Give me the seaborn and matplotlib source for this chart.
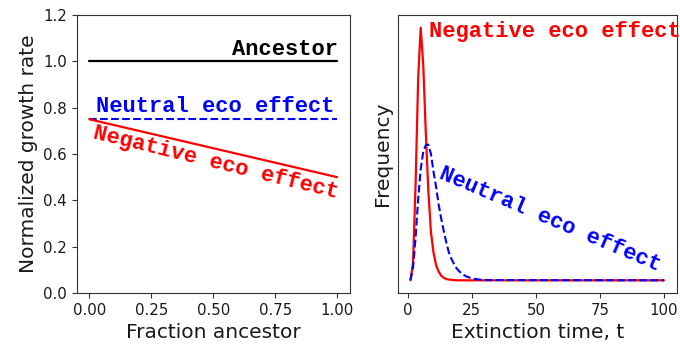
import matplotlib
matplotlib.use("Agg")
import matplotlib.pyplot as plt
import seaborn as sns

# ---- data: left panel ----
frac_ancestor = [0.0, 1.0]
ancestor_rate = [1.0, 1.0]
neutral_rate = [0.75, 0.75]
negative_rate = [0.75, 0.5]

# ---- data: right panel (relative frequency) ----
ext_time = [1, 2, 3, 4, 5, 6, 7, 8, 9, 10, 11, 12, 13, 14, 15, 16, 17, 18, 19, 20,
            21, 22, 23, 24, 25, 26, 27, 28, 29, 30, 100]
negative_freq = [0.0, 0.07, 0.38, 0.80, 1.0, 0.85, 0.58, 0.35, 0.19, 0.11, 0.06, 0.035,
                 0.018, 0.010, 0.005, 0.003, 0.002, 0.001, 0.0, 0.0,
                 0.0, 0.0, 0.0, 0.0, 0.0, 0.0, 0.0, 0.0, 0.0, 0.0, 0.0]
neutral_freq = [0.0, 0.05, 0.17, 0.32, 0.44, 0.51, 0.535, 0.537, 0.50, 0.43, 0.37, 0.30,
                0.245, 0.195, 0.15, 0.11, 0.085, 0.065, 0.048, 0.036,
                0.027, 0.020, 0.015, 0.011, 0.008, 0.006, 0.004, 0.003, 0.002, 0.001, 0.0]

sns.set_style("ticks")
plt.rcParams["font.family"] = ["DejaVu Sans"]
plt.rcParams["axes.edgecolor"] = "#333333"
plt.rcParams["text.color"] = "#1a1a1a"
plt.rcParams["axes.labelcolor"] = "#1a1a1a"
plt.rcParams["xtick.color"] = "#333333"
plt.rcParams["ytick.color"] = "#333333"
plt.rcParams["xtick.labelcolor"] = "#1a1a1a"
plt.rcParams["ytick.labelcolor"] = "#1a1a1a"

fig = plt.figure(figsize=(6.8, 3.5), dpi=100)
ax1 = fig.add_axes([0.113, 0.163, 0.401, 0.794])
ax2 = fig.add_axes([0.585, 0.163, 0.410, 0.794])

mono = dict(family="Liberation Mono", fontweight="bold", fontsize=15.8)

# Left panel
sns.lineplot(x=frac_ancestor, y=ancestor_rate, ax=ax1, color="black", lw=1.6)
sns.lineplot(x=frac_ancestor, y=neutral_rate, ax=ax1, color="blue", lw=1.5, linestyle="--")
sns.lineplot(x=frac_ancestor, y=negative_rate, ax=ax1, color="red", lw=1.6)
ax1.set_ylim(0, 1.2)
ax1.set_xticks([0.0, 0.25, 0.5, 0.75, 1.0])
ax1.set_xlabel("Fraction ancestor", fontsize=14.5)
ax1.set_ylabel("Normalized growth rate", fontsize=14.5)
ax1.tick_params(labelsize=10.8)
ax1.text(0.79, 1.05, "Ancestor", color="black", ha="center", va="center", **mono)
ax1.text(0.51, 0.807, "Neutral eco effect", color="blue", ha="center", va="center", **mono)
ax1.text(0.51, 0.56, "Negative eco effect", color="red", ha="center", va="center",
         rotation=-13.8, rotation_mode="anchor", **mono)

# Right panel
sns.lineplot(x=ext_time, y=negative_freq, ax=ax2, color="red", lw=1.6)
sns.lineplot(x=ext_time, y=neutral_freq, ax=ax2, color="blue", lw=1.5, linestyle="--")
ax2.set_yticks([])
ax2.set_xticks([0, 25, 50, 75, 100])
ax2.set_xlabel("Extinction time, t", fontsize=14.5)
ax2.set_ylabel("Frequency", fontsize=14.5)
ax2.tick_params(labelsize=10.8)
ax2.text(8.2, 0.984, "Negative eco effect", color="red", ha="left", va="center",
         clip_on=False, **mono)
ax2.text(55.6, 0.24, "Neutral eco effect", color="blue", ha="center", va="center",
         rotation=-23, rotation_mode="anchor", **mono)

fig.savefig("out.png", dpi=100)
